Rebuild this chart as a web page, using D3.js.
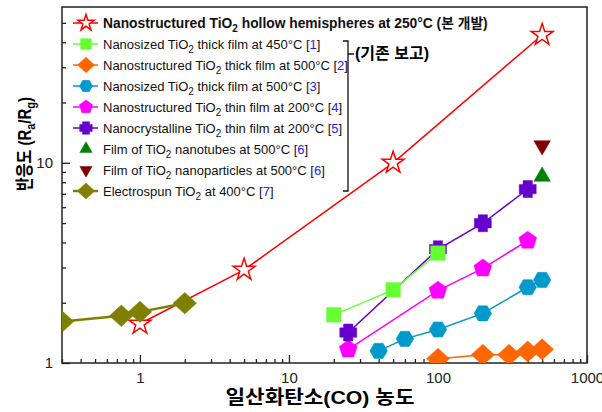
<!DOCTYPE html>
<html>
<head>
<meta charset="utf-8">
<script src="https://cdn.jsdelivr.net/npm/d3@7"></script>
<style>
  body { margin: 0; background: #fff; }
  text { font-family: "Liberation Sans", Arial, "Noto Sans CJK KR", sans-serif; }
</style>
</head>
<body>
<div id="chart"></div>
<script>
// series values (x = CO ppm, y = Ra/Rg)
const hollowX = [1, 5, 50, 500];
const hollowY = [1.57, 2.92, 10, 43.5];
const thick450X = [20, 50, 100];
const thick450Y = [1.74, 2.32, 3.54];
const thick500aX = [100, 200, 300, 400, 500];
const thick500aY = [1.05, 1.10, 1.10, 1.14, 1.17];
const thick500bX = [40, 60, 100, 200, 400, 500];
const thick500bY = [1.15, 1.32, 1.47, 1.77, 2.39, 2.60];
const thinNsX = [25, 100, 200, 400];
const thinNsY = [1.17, 2.30, 2.97, 4.09];
const thinNcX = [25, 100, 200, 400];
const thinNcY = [1.42, 3.70, 4.99, 7.39];
const tubesX = [500];
const tubesY = [8.54];
const particlesX = [500];
const particlesY = [12.2];
const spunX = [0.3, 0.75, 1, 2];
const spunY = [1.61, 1.72, 1.80, 1.99];

const legendPre = ["Nanostructured ", "Nanosized ", "Nanostructured ", "Nanosized ", "Nanostructured ",
    "Nanocrystalline ", "Film of ", "Film of ", "Electrospun "];
const legendPost = [" hollow hemispheres at 250°C (본 개발)", " thick film at 450°C ", " thick film at 500°C ",
    " thick film at 500°C ", " thin film at 200°C ", " thin film at 200°C ", " nanotubes at 500°C ",
    " nanoparticles at 500°C ", " at 400°C "];
const legendRef = [null, "1", "2", "3", "4", "5", "6", "6", "7"];

const xTicks = [1, 10, 100, 1000];
const yTicks = [1, 10];

// custom marker shapes
const hexagon = { draw(ctx, size) {
    const r = Math.sqrt(size * 2 / (3 * Math.sqrt(3)));
    for (let i = 0; i < 6; i++) {
        const a = i * Math.PI / 3;
        i ? ctx.lineTo(r * Math.cos(a), r * Math.sin(a)) : ctx.moveTo(r, 0);
    }
    ctx.closePath();
} };
const pentagon = { draw(ctx, size) {
    const r = Math.sqrt(size / 2.3776);
    for (let i = 0; i < 5; i++) {
        const a = -Math.PI / 2 + i * 2 * Math.PI / 5;
        i ? ctx.lineTo(r * Math.cos(a), r * Math.sin(a)) : ctx.moveTo(r * Math.cos(a), r * Math.sin(a));
    }
    ctx.closePath();
} };
const diamond = { draw(ctx, size) {
    const r = Math.sqrt(size / 2);
    ctx.moveTo(0, -r); ctx.lineTo(r * 1.1, 0); ctx.lineTo(0, r); ctx.lineTo(-r * 1.1, 0); ctx.closePath();
} };
const plus = { draw(ctx, size) {
    const s = Math.sqrt(size / 0.8) / 2, w = s * 0.55;
    ctx.moveTo(-w, -s); ctx.lineTo(w, -s); ctx.lineTo(w, -w); ctx.lineTo(s, -w); ctx.lineTo(s, w);
    ctx.lineTo(w, w); ctx.lineTo(w, s); ctx.lineTo(-w, s); ctx.lineTo(-w, w); ctx.lineTo(-s, w);
    ctx.lineTo(-s, -w); ctx.lineTo(-w, -w); ctx.closePath();
} };
const triDown = { draw(ctx, size) {
    const s = Math.sqrt(size / 0.433), h = s * 0.866;
    ctx.moveTo(-s / 2, -h / 3); ctx.lineTo(s / 2, -h / 3); ctx.lineTo(0, 2 * h / 3); ctx.closePath();
} };
const triUp = { draw(ctx, size) {
    const s = Math.sqrt(size / 0.433), h = s * 0.866;
    ctx.moveTo(-s / 2, h / 3); ctx.lineTo(s / 2, h / 3); ctx.lineTo(0, -2 * h / 3); ctx.closePath();
} };

const series = [
    { xs: hollowX, ys: hollowY, color: "#ff0000", fill: "#fff", type: d3.symbolStar, size: 150, line: true, lw: 1.5 },
    { xs: thick450X, ys: thick450Y, color: "#66ff33", type: d3.symbolSquare, size: 210, line: true, lw: 1.5 },
    { xs: thick500aX, ys: thick500aY, color: "#ff6600", type: diamond, size: 220, line: true, lw: 1.5 },
    { xs: thick500bX, ys: thick500bY, color: "#0099cc", type: hexagon, size: 200, line: true, lw: 1.5 },
    { xs: thinNsX, ys: thinNsY, color: "#ff00ff", type: pentagon, size: 210, line: true, lw: 1.5 },
    { xs: thinNcX, ys: thinNcY, color: "#6600cc", type: plus, size: 230, line: true, lw: 1.5 },
    { xs: tubesX, ys: tubesY, color: "#008000", type: triUp, size: 120, line: false },
    { xs: particlesX, ys: particlesY, color: "#800000", type: triDown, size: 120, line: false },
    { xs: spunX, ys: spunY, color: "#808000", type: diamond, size: 230, line: true, lw: 2.5 }
];
// green squares sit on top of the purple crosses in the picture
const drawOrder = [0, 2, 3, 4, 5, 1, 6, 7, 8];

const W = 602, H = 412;
const margin = { top: 7, right: 15, bottom: 49, left: 62 };
const width = W - margin.left - margin.right;
const height = H - margin.top - margin.bottom;

const svg = d3.select("#chart").append("svg")
    .attr("width", W).attr("height", H);

const x = d3.scaleLog().domain([0.3, 1000]).range([margin.left, margin.left + width]);
const y = d3.scaleLog().domain([1, 60]).range([margin.top + height, margin.top]);

svg.append("clipPath").attr("id", "plotclip")
    .append("rect").attr("x", margin.left).attr("y", margin.top).attr("width", width).attr("height", height);

const axisColor = "#222";

// minor + major ticks (inside)
const xMinor = [];
[0.1, 1, 10, 100].forEach(d => { for (let k = 2; k <= 9; k++) { const v = d * k; if (v >= 0.3 && v < 1000) xMinor.push(v); } });
const yMinor = [];
[1, 10].forEach(d => { for (let k = 2; k <= 9; k++) { const v = d * k; if (v < 60) yMinor.push(v); } });

svg.append("g")
    .attr("transform", `translate(0, ${margin.top + height})`)
    .call(d3.axisBottom(x).tickValues(xTicks).tickFormat(d3.format("d")).tickSize(-8).tickPadding(9));
svg.append("g")
    .attr("transform", `translate(0, ${margin.top + height})`)
    .call(d3.axisBottom(x).tickValues(xMinor).tickFormat("").tickSize(-4));

svg.append("g")
    .attr("transform", `translate(${margin.left}, 0)`)
    .call(d3.axisLeft(y).tickValues(yTicks).tickFormat(d3.format("d")).tickSize(-8).tickPadding(9));
svg.append("g")
    .attr("transform", `translate(${margin.left}, 0)`)
    .call(d3.axisLeft(y).tickValues(yMinor).tickFormat("").tickSize(-4));

svg.selectAll(".tick line").attr("stroke", axisColor).attr("stroke-width", 1.3);
svg.selectAll(".tick text").attr("fill", "#222").style("font-size", "15px");
svg.selectAll(".domain").remove();

// frame
svg.append("rect")
    .attr("x", margin.left).attr("y", margin.top)
    .attr("width", width).attr("height", height)
    .attr("fill", "none").attr("stroke", axisColor).attr("stroke-width", 1.5);

// axis titles
svg.append("text")
    .attr("transform", "translate(320, 404) scale(1.12, 1)")
    .attr("text-anchor", "middle")
    .style("font-size", "19px").style("font-weight", "bold")
    .text("일산화탄소(CO) 농도");

const yTitle = svg.append("text")
    .attr("transform", "translate(31, 144) rotate(-90) scale(1, 1.2)")
    .attr("text-anchor", "middle")
    .style("font-size", "15px").style("font-weight", "bold");
yTitle.append("tspan").text("반응도 (R");
yTitle.append("tspan").attr("dy", 3).style("font-size", "11px").text("a");
yTitle.append("tspan").attr("dy", -3).text("/R");
yTitle.append("tspan").attr("dy", 3).style("font-size", "11px").text("g");
yTitle.append("tspan").attr("dy", -3).text(")");

// data
const plot = svg.append("g").attr("clip-path", "url(#plotclip)");
const line = d3.line().x(d => x(d[0])).y(d => y(d[1]));

drawOrder.forEach(k => {
    const s = series[k];
    const pts = s.xs.map((v, i) => [v, s.ys[i]]);
    if (s.line) {
        plot.append("path")
            .attr("d", line(pts))
            .attr("fill", "none")
            .attr("stroke", s.color)
            .attr("stroke-width", s.lw);
    }
    plot.selectAll(null)
        .data(pts)
        .enter()
        .append("path")
        .attr("transform", d => `translate(${x(d[0])}, ${y(d[1])})`)
        .attr("d", d3.symbol().type(s.type).size(s.size))
        .attr("fill", s.fill || s.color)
        .attr("stroke", s.color)
        .attr("stroke-width", s.fill ? 1.5 : 0.5);
});

// legend
const legend = svg.append("g");
const rowY = i => 23 + i * 21;
series.forEach((s, i) => {
    const g = legend.append("g").attr("transform", `translate(0, ${rowY(i)})`);
    if (s.line) {
        g.append("line").attr("x1", 73).attr("x2", 98).attr("y1", 0).attr("y2", 0)
            .attr("stroke", s.color).attr("stroke-width", s.lw);
    }
    g.append("path")
        .attr("transform", "translate(86, 0)")
        .attr("d", d3.symbol().type(s.type).size(s.size * 0.55))
        .attr("fill", s.fill || s.color)
        .attr("stroke", s.color)
        .attr("stroke-width", s.fill ? 1.5 : 0.5);

    const t = g.append("text")
        .attr("x", 103).attr("y", 5)
        .style("font-size", i === 0 ? "13.8px" : "13px")
        .style("font-weight", i === 0 ? "bold" : "normal")
        .attr("fill", "#111");
    t.append("tspan").text(legendPre[i] + "TiO");
    t.append("tspan").attr("dy", 4).style("font-size", "10px").text("2");
    t.append("tspan").attr("dy", -4).text(legendPost[i]);
    if (legendRef[i]) {
        t.append("tspan").text("[");
        t.append("tspan").attr("fill", "#2222ff").text(legendRef[i]);
        t.append("tspan").text("]");
    }
});

// bracket for previous reports
const bx = 348, bTop = rowY(1) - 3, bBot = rowY(8);
legend.append("path")
    .attr("d", `M${bx - 5},${bTop} H${bx} V${bBot} H${bx - 5} M${bx},${bTop + 13} H${bx + 6}`)
    .attr("fill", "none").attr("stroke", "#111").attr("stroke-width", 1.3);
legend.append("text")
    .attr("x", bx + 7).attr("y", bTop + 18)
    .style("font-size", "16px").style("font-weight", "bold")
    .text("(기존 보고)");
</script>
</body>
</html>
